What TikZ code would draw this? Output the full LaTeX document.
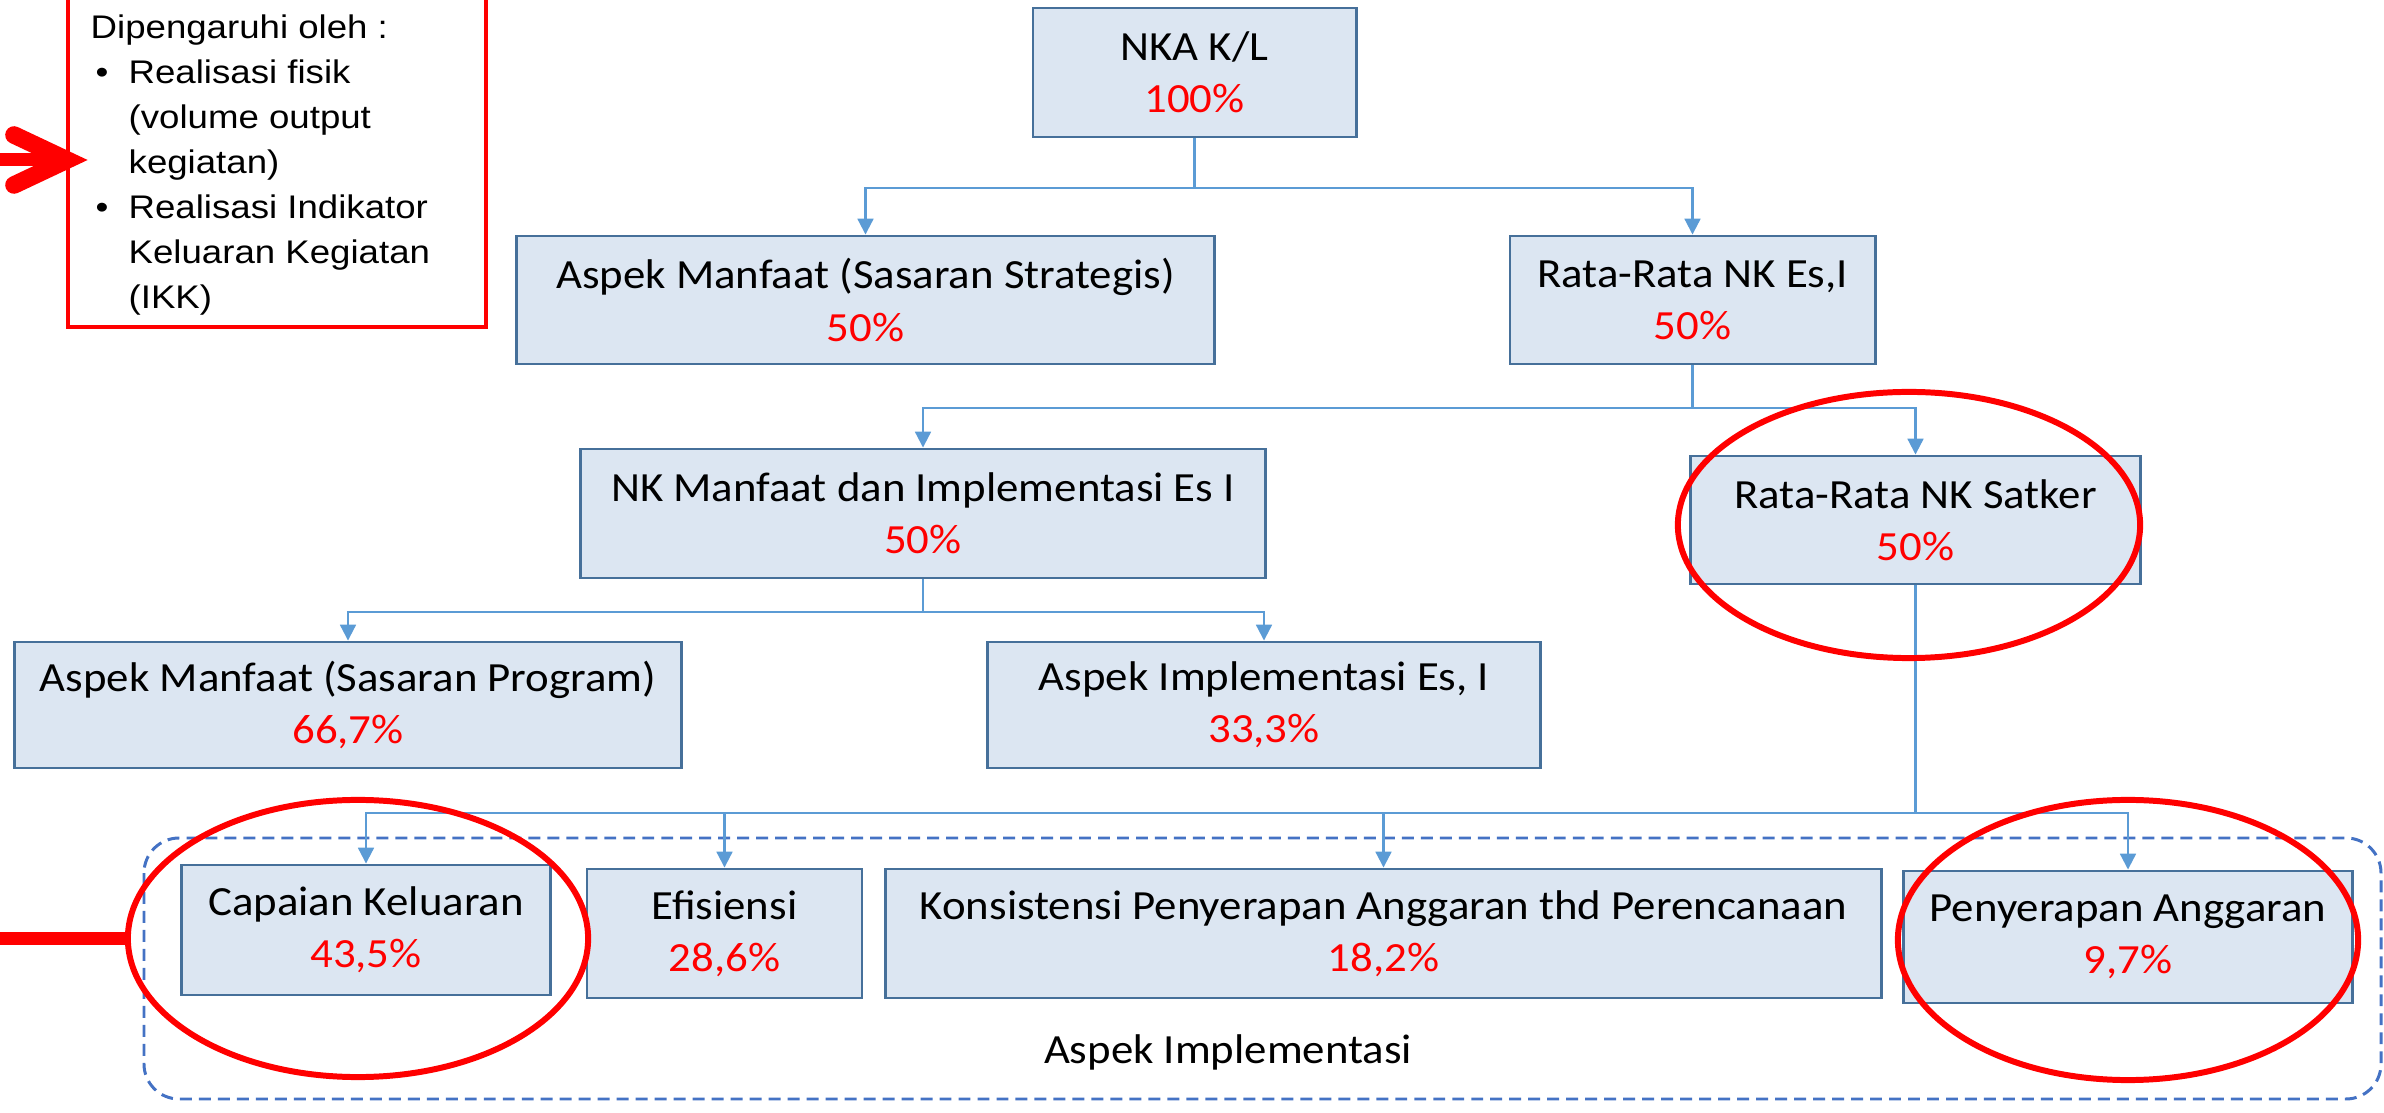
\documentclass[tikz,border=0pt]{standalone}
\usepackage{fontspec}
\setmainfont{Carlito}[FakeStretch=1.08]
\newfontfamily\arialfont{Liberation Sans}[FakeStretch=1.12]
\usetikzlibrary{arrows.meta}
\definecolor{boxfill}{HTML}{DCE6F2}
\definecolor{boxline}{HTML}{46709A}
\definecolor{connblue}{HTML}{5B9BD5}
\definecolor{dashblue}{HTML}{4472C4}
\definecolor{pctred}{HTML}{FF0000}
\newcommand{\pct}[1]{\textcolor{pctred}{#1}}
\begin{document}
\begin{tikzpicture}[x=0.01cm,y=-0.01cm,
  box/.style={draw=boxline, fill=boxfill, line width=0.8pt, align=center,
    font=\fontsize{11.8}{14.8}\selectfont, inner sep=0pt},
  conn/.style={draw=connblue, line width=0.6pt, -{Triangle[length=4.5pt,width=4.5pt]}},
  ring/.style={draw=pctred, line width=1.7pt},
  redline/.style={draw=pctred, line width=3.7pt},
]
\useasboundingbox (0,0) rectangle (2384,1113);

% dashed group
\draw[draw=dashblue, line width=0.85pt, dash pattern=on 3.4pt off 2pt, rounded corners=0.35cm]
  (144,838) rectangle (2381,1099);
\node[font=\fontsize{11.8}{14.8}\selectfont] (grp) at (1228,1052) {Aspek Implementasi};

% boxes
\node[box, minimum width=3.23cm, minimum height=1.29cm] (nka) at (1194.5,72.5) {NKA K/L\\\pct{100\%}};
\node[box, minimum width=6.97cm, minimum height=1.28cm] (strat) at (865.5,300) {Aspek Manfaat (Sasaran Strategis)\\\pct{50\%}};
\node[box, minimum width=3.65cm, minimum height=1.28cm] (esi) at (1692.5,300) {Rata-Rata NK Es,I\\\pct{50\%}};
\node[box, minimum width=6.84cm, minimum height=1.29cm] (nkm) at (923,513.5) {NK Manfaat dan Implementasi Es I\\\pct{50\%}};
\node[box, minimum width=4.49cm, minimum height=1.28cm] (satker) at (1915.5,520) {Rata-Rata NK Satker\\\pct{50\%}};
\node[box, minimum width=6.66cm, minimum height=1.26cm] (prog) at (348,705) {Aspek Manfaat (Sasaran Program)\\\pct{66,7\%}};
\node[box, minimum width=5.52cm, minimum height=1.26cm] (impl) at (1264,705) {Aspek Implementasi Es, I\\\pct{33,3\%}};
\node[box, minimum width=3.68cm, minimum height=1.30cm] (cap) at (366,930) {Capaian Keluaran\\\pct{43,5\%}};
\node[box, minimum width=2.75cm, minimum height=1.29cm] (efi) at (724.5,933.5) {Efisiensi\\\pct{28,6\%}};
\node[box, minimum width=9.95cm, minimum height=1.29cm] (kon) at (1383.5,933.5) {Konsistensi Penyerapan Anggaran thd Perencanaan\\\pct{18,2\%}};
\node[box, minimum width=4.48cm, minimum height=1.32cm] (pen) at (2128,937) {Penyerapan Anggaran\\\pct{9,7\%}};

% connectors
\draw[conn] (nka.south) -- ++(0,50) -| (strat.north);
\draw[conn] (nka.south) -- ++(0,50) -| (esi.north);
\draw[conn] (esi.south) -- ++(0,43) -| (nkm.north);
\draw[conn] (esi.south) -- ++(0,43) -| (satker.north);
\draw[conn] (nkm.south) -- ++(0,33) -| (prog.north);
\draw[conn] (nkm.south) -- ++(0,33) -| (impl.north);
\draw[conn] (satker.south) -- ++(0,228) -| (cap.north);
\draw[conn] (satker.south) -- ++(0,228) -| (efi.north);
\draw[conn] (satker.south) -- ++(0,228) -| (kon.north);
\draw[conn] (satker.south) -- ++(0,228) -| (pen.north);

% red highlights
\draw[ring] (1909,525) ellipse [x radius=2.31cm, y radius=1.33cm];
\draw[ring] (358,938.5) ellipse [x radius=2.30cm, y radius=1.385cm];
\draw[ring] (2128,940) ellipse [x radius=2.30cm, y radius=1.40cm];
\coordinate (capring) at (128,938.5);
\draw[redline] (0,938.5) -- (capring);

% note box
\draw[draw=pctred, line width=1.4pt] (68,-20) rectangle (486,327);
\node[anchor=north west, inner sep=0pt, align=left,
  font=\arialfont\fontsize{9.3}{12.8}\selectfont] (note) at (90,14) {%
Dipengaruhi oleh :\\
\hspace*{1.4pt}\makebox[9.4pt][l]{•}Realisasi fisik\\
\hspace*{10.8pt}(volume output\\
\hspace*{10.8pt}kegiatan)\\
\hspace*{1.4pt}\makebox[9.4pt][l]{•}Realisasi Indikator\\
\hspace*{10.8pt}Keluaran Kegiatan\\
\hspace*{10.8pt}(IKK)};
\coordinate (notein) at (67,160);
\draw[redline] (0,160) -- (54,160);
\draw[draw=pctred, line width=5pt, line cap=round, line join=miter] (14,135) -- (notein) -- (14,185);
\end{tikzpicture}
\end{document}
